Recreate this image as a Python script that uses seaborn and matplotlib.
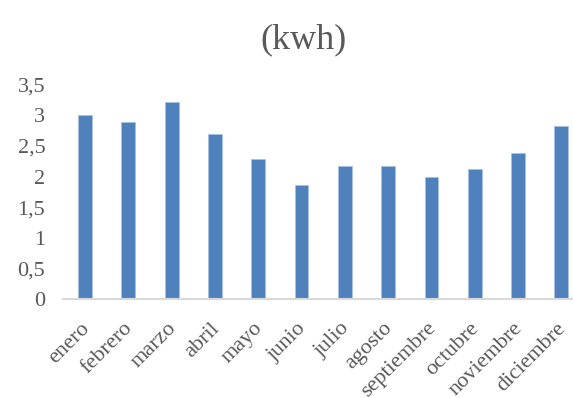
import matplotlib
matplotlib.use("Agg")
import matplotlib.pyplot as plt
from matplotlib.ticker import FuncFormatter, MultipleLocator
from matplotlib.transforms import ScaledTranslation
import seaborn as sns
import pandas as pd

months = ["enero", "febrero", "marzo", "abril", "mayo", "junio", "julio",
          "agosto", "septiembre", "octubre", "noviembre", "diciembre"]
kwh = [3.0, 2.89, 3.21, 2.70, 2.28, 1.87, 2.18, 2.18, 1.99, 2.12, 2.39, 2.82]
title = "(kwh)"

df = pd.DataFrame({"mes": months, "kwh": kwh})

sns.set_theme(style="white")
plt.rcParams["font.family"] = ["Liberation Serif", "DejaVu Serif"]

fig = plt.figure(figsize=(5.73, 3.98), dpi=100)
ax = fig.add_axes([0.1105, 0.2475, 0.907, 0.54])

sns.barplot(data=df, x="mes", y="kwh", color="#4F81BD", saturation=1,
            width=0.32, edgecolor="#A9C1E0", linewidth=0.6, ax=ax)

ax.set_ylim(0, 3.5)
ax.set_xlim(-0.5, len(months) - 0.5)
ax.yaxis.set_major_locator(MultipleLocator(0.5))
ax.yaxis.set_major_formatter(FuncFormatter(
    lambda v, _: f"{v:g}".replace(".", ",")))
ax.set_xlabel("")
ax.set_ylabel("")

for side in ("top", "right", "left"):
    ax.spines[side].set_visible(False)
ax.spines["bottom"].set_color("#D9D9D9")
ax.spines["bottom"].set_linewidth(1.5)
ax.tick_params(axis="both", length=0, colors="#595959", labelsize=16)
ax.tick_params(axis="y", pad=13)
ax.tick_params(axis="x", pad=14)
shift = ScaledTranslation(-5 / 100, 0, fig.dpi_scale_trans)
for lbl in ax.get_xticklabels():
    lbl.set_rotation(45)
    lbl.set_ha("right")
    lbl.set_va("top")
    lbl.set_rotation_mode("anchor")
    lbl.set_transform(lbl.get_transform() + shift)

fig.text(0.53, 0.90, title, ha="center", va="center",
         fontsize=26, color="#595959")

fig.savefig("out.png", dpi=100)
